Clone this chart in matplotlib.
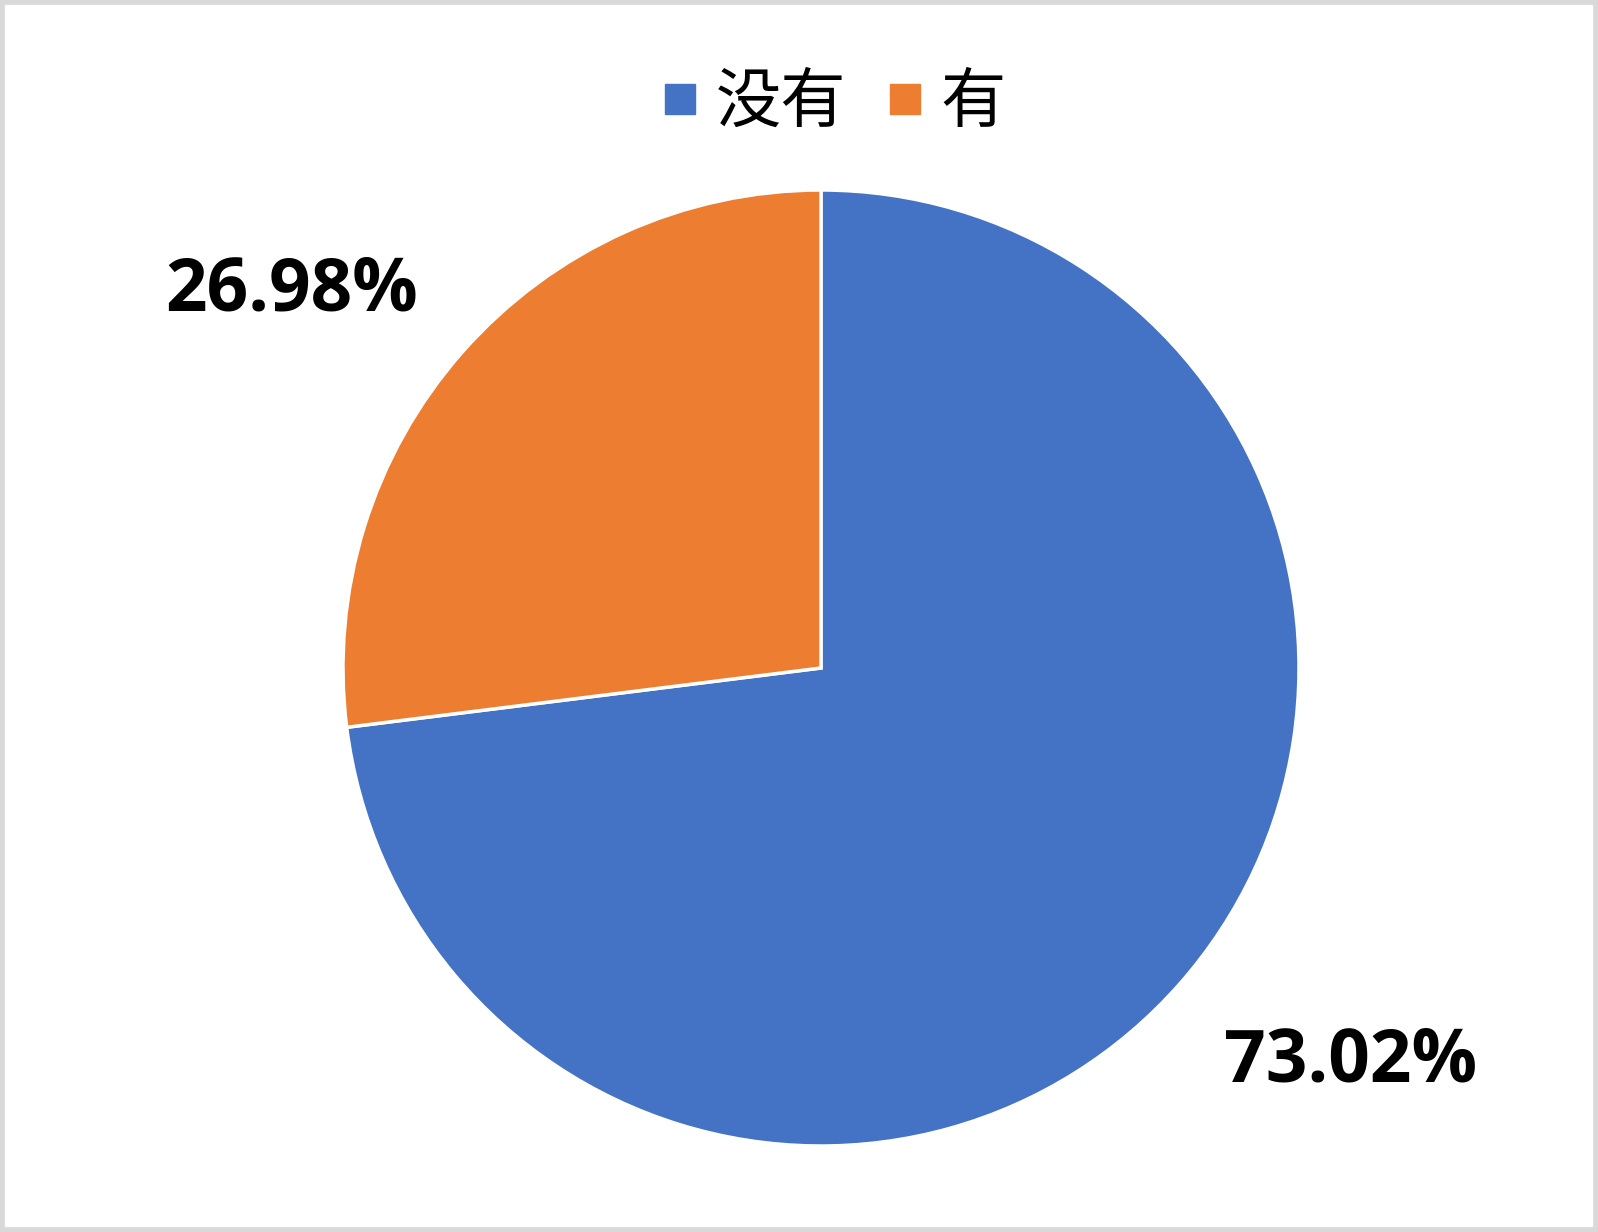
import matplotlib.pyplot as plt
from matplotlib.patches import Rectangle
from matplotlib.lines import Line2D

# data
labels = ['没有', '有']
shares = [73.02, 26.98]
colors = ['#4472C4', '#ED7D31']

W, H = 1598, 1232
fig = plt.figure(figsize=(W / 100, H / 100), dpi=100)
fig.patch.set_facecolor('white')

# pie axes: centre (821, 668) px from top, radius ~478 px
r = 478
cx, cy = 821, H - 668
ax = fig.add_axes([(cx - r) / W, (cy - r) / H, 2 * r / W, 2 * r / H])
ax.pie(shares, colors=colors, startangle=90, counterclock=False,
       wedgeprops=dict(edgecolor='white', linewidth=2.5))
ax.set_xlim(-1, 1)
ax.set_ylim(-1, 1)
ax.set_aspect('equal')

# percent labels
pct_font = dict(fontsize=52.5, fontweight='bold', family=['Open Sans', 'DejaVu Sans'],
                ha='center', va='center', clip_on=False)
ax.text(1.108, -0.826, f'{shares[0]:.2f}%', **pct_font)
ax.text(-1.108, 0.787, f'{shares[1]:.2f}%', **pct_font)

# legend
handles = [Line2D([], [], marker='s', linestyle='none', markersize=21,
                  markerfacecolor=c, markeredgecolor=c) for c in colors]
leg = fig.legend(handles, labels, loc='center', bbox_to_anchor=(833 / W, 1 - 104 / H),
                 ncol=2, frameon=False, handletextpad=0.25, columnspacing=0.6,
                 handlelength=0.6, prop={'family': ['Noto Sans CJK SC', 'DejaVu Sans'],
                                         'size': 47})

# gray frame around the chart
fig.patches.append(Rectangle((0, 0), 1, 1, transform=fig.transFigure, fill=False,
                             edgecolor='#d9d9d9', linewidth=7))

fig.savefig('out.png', dpi=100)
